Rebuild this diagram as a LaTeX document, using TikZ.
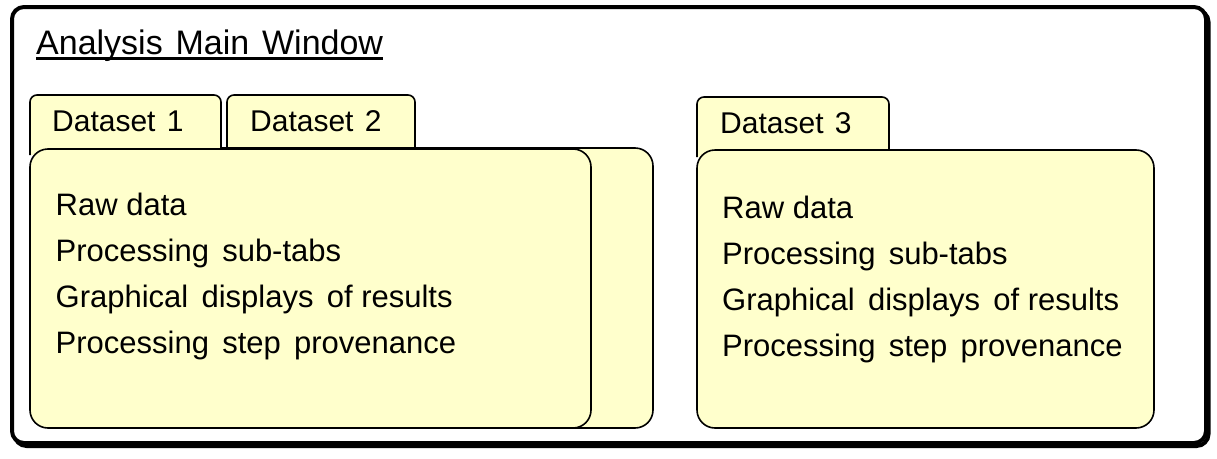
\documentclass[tikz,border=0pt]{standalone}
\usepackage{fontspec}
\setmainfont{Liberation Sans}
\definecolor{tabyellow}{HTML}{FFFFCC}
\begin{document}
\begin{tikzpicture}[x=1pt,y=-1pt,
  frame/.style={line width=4pt,rounded corners=12pt},
  ybox/.style={draw=black,line width=1.6pt,fill=tabyellow,rounded corners=18pt},
  tabshape/.style={draw=black,line width=1.6pt,fill=tabyellow,rounded corners=7pt},
  tablabel/.style={anchor=base west,inner sep=0pt,font=\fontsize{30}{36}\selectfont},
  bodyline/.style={anchor=base west,inner sep=0pt,font=\fontsize{31}{36}\selectfont},
  titlelabel/.style={anchor=base west,inner sep=0pt,font=\fontsize{34}{40}\selectfont}]
\useasboundingbox (0,0) rectangle (1217,458);
% outer window with slight shadow
\draw[frame,shift={(2.5pt,-3pt)}] (12,7) rectangle (1206,443);
\draw[frame,fill=white] (12,7) rectangle (1206,443);
% title
\node[titlelabel] (title) at (36,54) {Analysis\hspace{0.1em} Main\hspace{0.1em} Window};
\draw[line width=2.5pt] ([yshift=-4.5pt]title.base west) -- ([yshift=-4.5pt]title.base east);
% dataset 2 (behind)
\draw[tabshape] (227,155) -- (227,95) -- (415,95) -- (415,155);
\draw[ybox] (100,148) rectangle (653,428);
% dataset 1 (front)
\draw[tabshape] (30,155) -- (30,95) -- (221,95) -- (221,155);
\draw[ybox] (30,149) rectangle (591,428);
% dataset 3
\draw[tabshape] (697,157) -- (697,97) -- (889,97) -- (889,157);
\draw[ybox] (697,150) rectangle (1154,428);
% tab labels
\node[tablabel] (t1) at (52,131) {Dataset\hspace{0.1em} 1};
\node[tablabel] (t2) at (250,131) {Dataset\hspace{0.1em} 2};
\node[tablabel] (t3) at (720,133) {Dataset\hspace{0.1em} 3};
% body lines
\foreach \txt [count=\i] in {Raw data,Processing\hspace{0.15em} sub-tabs,Graphical\hspace{0.15em} displays\hspace{0.15em} of results,Processing\hspace{0.15em} step\hspace{0.15em} provenance}{
  \node[bodyline] (a\i) at (55.5,{215+46.3*(\i-1)}) {\txt};
  \node[bodyline] (b\i) at (722,{218+46.3*(\i-1)}) {\txt};
}
\end{tikzpicture}
\end{document}
